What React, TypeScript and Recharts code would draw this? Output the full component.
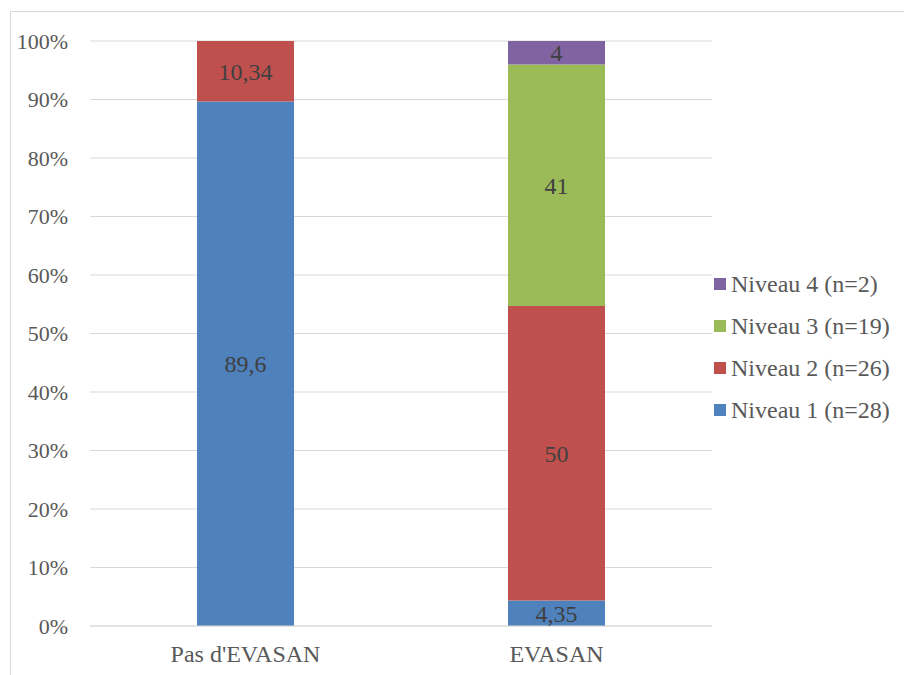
import React from "react";
import { BarChart, Bar, XAxis, YAxis, CartesianGrid, LabelList } from "recharts";

const categories = ["Pas d'EVASAN", "EVASAN"];
const niveau1 = [89.6, 4.35];
const niveau2 = [10.34, 50];
const niveau3 = [0, 41];
const niveau4 = [0, 4];
const yTicks = [0, 0.1, 0.2, 0.3, 0.4, 0.5, 0.6, 0.7, 0.8, 0.9, 1];

const series = [
  { key: "n1", name: "Niveau 1 (n=28)", color: "#4f81bd", values: niveau1 },
  { key: "n2", name: "Niveau 2 (n=26)", color: "#c0504d", values: niveau2 },
  { key: "n3", name: "Niveau 3 (n=19)", color: "#9bbb59", values: niveau3 },
  { key: "n4", name: "Niveau 4 (n=2)", color: "#8064a2", values: niveau4 },
];

const data = categories.map((c, i) => {
  const row: Record<string, string | number> = { category: c };
  series.forEach((s) => {
    row[s.key] = s.values[i];
  });
  return row;
});

const FONT = "'Liberation Serif', 'Times New Roman', serif";

const fmt = (v: any) => {
  const n = Number(v);
  if (!n) return "";
  return String(n).replace(".", ",");
};

const LegendContent = () => (
  <div style={{ position: "absolute", left: 714, top: 263, fontFamily: FONT, fontSize: 24, color: "#595959" }}>
    {[...series].reverse().map((s) => (
      <div key={s.key} style={{ display: "flex", alignItems: "center", height: 42, whiteSpace: "nowrap" }}>
        <span style={{ display: "inline-block", width: 12, height: 12, background: s.color, marginRight: 5 }} />
        <span>{s.name}</span>
      </div>
    ))}
  </div>
);

export default function App() {
  return (
    <div style={{ position: "absolute", left: 0, top: 0, width: 904, height: 675, overflow: "hidden", background: "#fff", fontFamily: FONT }}>
      <div style={{ position: "absolute", left: 10, top: 11, width: 2000, height: 2000, borderLeft: "1px solid #d9d9d9", borderTop: "1px solid #d9d9d9" }} />
      <div style={{ position: "absolute", left: 0, top: 0 }}>
        <BarChart
          width={904}
          height={675}
          data={data}
          stackOffset="expand"
          margin={{ top: 41, right: 192, bottom: 19, left: 0 }}
          barSize={97}
        >
          <CartesianGrid vertical={false} stroke="#d9d9d9" strokeWidth={1} />
          <XAxis
            dataKey="category"
            height={30}
            axisLine={{ stroke: "#d9d9d9" }}
            tickLine={false}
            tickSize={0}
            tickMargin={19}
            tick={{ fontSize: 24, fill: "#595959", fontFamily: FONT }}
          />
          <YAxis
            width={90}
            domain={[0, 1]}
            ticks={yTicks}
            interval={0}
            axisLine={false}
            tickLine={false}
            tickSize={0}
            tickMargin={22}
            tickFormatter={(v: number) => `${Math.round(v * 100)}%`}
            tick={{ fontSize: 22, fill: "#595959", fontFamily: FONT }}
          />
          {series.map((s) => (
            <Bar key={s.key} dataKey={s.key} name={s.name} stackId="a" fill={s.color} isAnimationActive={false}>
              <LabelList
                dataKey={s.key}
                position="center"
                formatter={fmt}
                style={{ fontSize: 24, fill: "#404040", fontFamily: FONT }}
              />
            </Bar>
          ))}
        </BarChart>
      </div>
      <LegendContent />
    </div>
  );
}
